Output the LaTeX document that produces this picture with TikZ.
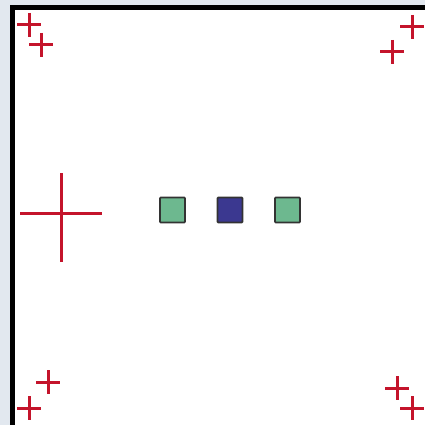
\documentclass[tikz,border=0pt]{standalone}
\begin{document}
\begin{tikzpicture}[x=1pt,y=-1pt,
  crossline/.style={draw=crossred,line width=3.0pt},
  sq/.style={draw=sqborder,line width=1.8pt,minimum size=25pt,inner sep=0pt,rounded corners=0.8pt}]
\definecolor{crossred}{HTML}{C4142B}
\definecolor{bggray}{HTML}{E2E8EF}
\definecolor{sqgreen}{HTML}{6DB88F}
\definecolor{sqblue}{HTML}{3B3890}
\definecolor{sqborder}{HTML}{333333}
\useasboundingbox (0,0) rectangle (425,425);
\fill[bggray] (0,0) rectangle (425,425);
\fill[white] (12,7.5) rectangle (425,425);
\draw[black,line width=5pt] (12,425) -- (12,7.5) -- (425,7.5);
% small crosses
\foreach \cx/\cy in {29/25,41/45,412/27,392/52,48/382,29/408,397/388,412/408}{
  \draw[crossline] (\cx-12,\cy) -- (\cx+12,\cy);
  \draw[crossline] (\cx,\cy-12) -- (\cx,\cy+12);
}
% big cross
\coordinate (bc) at (61,213);
\draw[crossline] (20,213) -- (102,213);
\draw[crossline] (61,173) -- (61,262);
% squares
\node[sq,fill=sqgreen] (s1) at (172.5,210) {};
\node[sq,fill=sqblue] (s2) at (230,210) {};
\node[sq,fill=sqgreen] (s3) at (287.5,210) {};
\end{tikzpicture}
\end{document}
